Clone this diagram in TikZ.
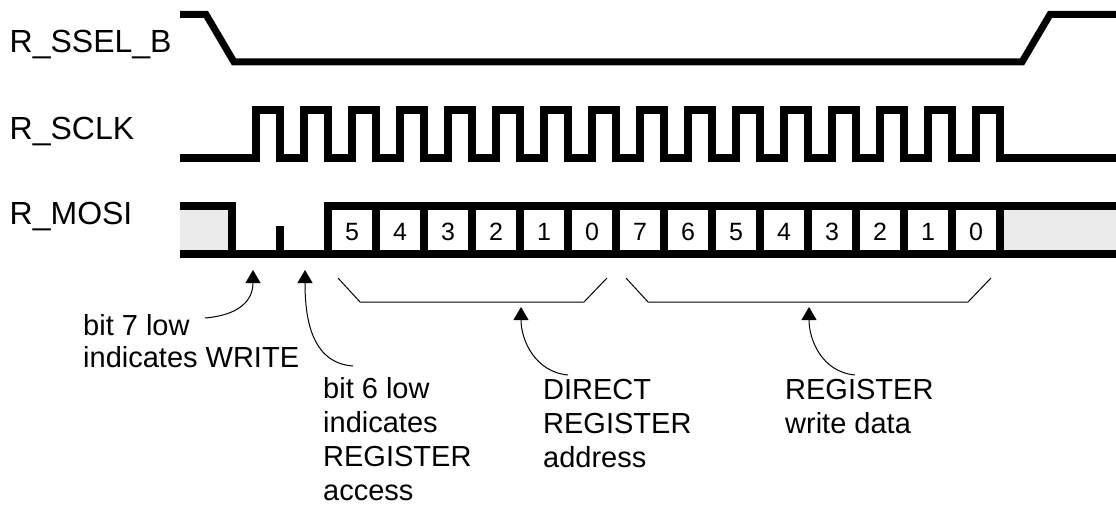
\documentclass[tikz,border=0pt]{standalone}
\usepackage{fontspec}
\setmainfont{Liberation Sans}
\usetikzlibrary{arrows.meta}
\definecolor{busgray}{RGB}{235,235,235}

\begin{document}
\begin{tikzpicture}[x=1pt,y=-1pt]
    \tikzstyle{signal}=[line width=8pt]
    \tikzstyle{bracket}=[line width=1pt]
    \tikzstyle{pointer}=[line width=1pt,-{Triangle[width=15pt,length=13pt]}]
    \tikzstyle{signame}=[anchor=base west,inner sep=0pt,font=\fontsize{32}{38}\selectfont]
    \tikzstyle{note}=[anchor=base west,inner sep=0pt,align=left,font=\fontsize{29}{34}\selectfont]
    \tikzstyle{bitnum}=[inner sep=0pt,font=\fontsize{25}{30}\selectfont]
    \useasboundingbox (0,0) rectangle (1116,505);

    % Signal names
    \node[signame] (ssel) at (9.5,53)  {R\_SSEL\_B};
    \node[signame] (sclk) at (9.5,140) {R\_SCLK};
    \node[signame] (mosi) at (9.5,225) {R\_MOSI};

    % Select line
    \draw[signal,line width=7pt] (180,14.5) -- (206,14.5) -- (234,62) -- (1022,62) -- (1050,14.5) -- (1116,14.5);

    % Clock
    \draw[signal] (180,158) foreach \k in {0,...,15} {
        -- (256+48*\k,158) -- (256+48*\k,110) -- (280+48*\k,110) -- (280+48*\k,158)} -- (1116,158);

    % Data line
    \fill[busgray] (180,206.5) rectangle (232,254);
    \fill[busgray] (1000,206.5) rectangle (1116,254);
    \draw[signal] (180,206.5) -- (232,206.5) -- (232,254);
    \draw[signal] (180,254) -- (1116,254);
    \draw[signal] (280,254) -- (280,226);
    \draw[signal] (328,254) -- (328,206.5) -- (1116,206.5);
    \foreach \x in {376,424,...,1000}
        \draw[signal] (\x,206.5) -- (\x,254);

    % Bit numbers
    \foreach \i/\d in {0/5,1/4,2/3,3/2,4/1,5/0,6/7,7/6,8/5,9/4,10/3,11/2,12/1,13/0}
        \node[bitnum] (bit\i) at (352+48*\i,232) {\d};

    % Brackets
    \draw[bracket] (338,278) -- (360,302) -- (584,302) -- (607,278);
    \draw[bracket] (626,278) -- (648,302) -- (968,302) -- (991,278);

    % Notes (placed at the baseline of their last line)
    \node[note,font=\fontsize{29}{32}\selectfont] (note7) at (83,367) {bit 7 low\\indicates WRITE};
    \node[note] (note6) at (323,500) {bit 6 low\\indicates\\REGISTER\\access};
    \node[note] (noteaddr) at (543,467) {DIRECT\\REGISTER\\address};
    \node[note] (notedata) at (785,433) {REGISTER\\write data};

    % Pointers
    \coordinate (tail7) at (205,318);
    \coordinate (tip7)  at (253,270);
    \coordinate (tail6) at (353,366);
    \coordinate (tip6)  at (305,270);
    \coordinate (tailaddr) at (568,375);
    \coordinate (tipaddr)  at (521,307);
    \coordinate (taildata) at (855,375);
    \coordinate (tipdata)  at (809,307);
    \draw[pointer] (tail7) .. controls +(35,-3) and +(0,30) .. (tip7);
    \draw[pointer] (tail6) .. controls +(-43,-3) and +(0,45) .. (tip6);
    \draw[pointer] (tailaddr) .. controls +(-33,-3) and +(0,33) .. (tipaddr);
    \draw[pointer] (taildata) .. controls +(-33,-3) and +(0,33) .. (tipdata);
\end{tikzpicture}
\end{document}
